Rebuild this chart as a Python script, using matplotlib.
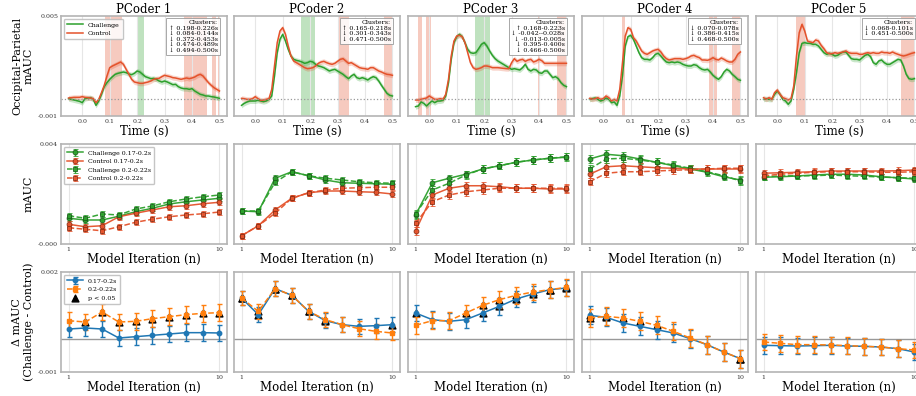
import matplotlib
matplotlib.use("Agg")
import numpy as np
import matplotlib.pyplot as plt

plt.rcParams['font.family'] = ['DejaVu Serif', 'DejaVu Sans']

# ---------------- data (mAUC values in units of 1e-3) ----------------
time = [-0.05, -0.04, -0.03, -0.02, -0.01, 0.0, 0.01, 0.02, 0.03, 0.04,
        0.05, 0.06, 0.07, 0.08, 0.09, 0.10, 0.11, 0.12, 0.13, 0.14,
        0.15, 0.16, 0.17, 0.18, 0.19, 0.20, 0.21, 0.22, 0.23, 0.24,
        0.25, 0.26, 0.27, 0.28, 0.29, 0.30, 0.31, 0.32, 0.33, 0.34,
        0.35, 0.36, 0.37, 0.38, 0.39, 0.40, 0.41, 0.42, 0.43, 0.44,
        0.45, 0.46, 0.47, 0.48, 0.49, 0.50]

challenge_ts = [
    [0.04, 0.0, -0.04, -0.08, -0.12, -0.2, 0.04, 0.08, 0.1, 0.0,
     -0.36, -0.1, 0.3, 0.76, 1.0, 1.2, 1.36, 1.5, 1.56, 1.6,
     1.64, 1.6, 1.52, 1.48, 1.56, 1.7, 1.64, 1.5, 1.36, 1.3,
     1.24, 1.26, 1.2, 1.1, 1.04, 1.1, 1.04, 0.96, 0.88, 0.9,
     0.76, 0.68, 0.64, 0.64, 0.6, 0.64, 0.5, 0.4, 0.3, 0.26,
     0.2, 0.2, 0.16, 0.14, 0.1, 0.06],
    [-0.36, -0.24, -0.16, -0.1, -0.1, -0.1, -0.06, -0.1, -0.14, -0.1,
     0.0, 0.2, 1.4, 2.8, 3.6, 3.9, 3.5, 3.0, 2.6, 2.4,
     2.34, 2.3, 2.24, 2.16, 2.2, 2.28, 2.24, 2.1, 2.0, 1.96,
     1.9, 1.8, 1.7, 1.76, 1.8, 1.7, 1.6, 1.5, 1.36, 1.24,
     1.4, 1.5, 1.3, 1.24, 1.3, 1.24, 1.16, 1.28, 1.36, 1.3,
     1.1, 0.84, 0.6, 0.36, 0.24, 0.2],
    [-0.44, -0.4, -0.16, -0.24, -0.4, -0.24, -0.1, -0.2, -0.1, -0.1,
     -0.06, 0.2, 1.0, 2.4, 3.4, 3.76, 3.9, 3.76, 3.4, 3.0,
     2.8, 2.76, 2.8, 3.04, 3.3, 3.4, 3.2, 2.9, 2.64, 2.44,
     2.3, 2.2, 2.1, 2.0, 1.9, 1.8, 1.84, 1.8, 1.76, 1.9,
     2.1, 1.8, 1.7, 1.8, 1.76, 1.6, 1.56, 1.7, 1.7, 1.5,
     1.3, 1.36, 1.24, 1.0, 0.84, 0.76],
    [0.0, 0.04, 0.08, 0.0, -0.1, -0.04, 0.08, 0.0, -0.2, -0.16,
     -0.36, 0.2, 1.4, 3.2, 3.76, 3.84, 3.6, 3.2, 2.8, 2.5,
     2.4, 2.4, 2.36, 2.5, 2.7, 2.76, 2.6, 2.4, 2.24, 2.2,
     2.24, 2.2, 2.24, 2.2, 2.1, 2.04, 2.0, 2.0, 2.08, 2.04,
     1.9, 1.8, 1.76, 1.8, 1.64, 1.44, 1.3, 1.2, 1.36, 1.64,
     1.8, 1.7, 1.5, 1.36, 1.2, 1.14],
    [0.0, 0.04, 0.0, 0.0, 0.3, 0.5, 0.3, 0.0, -0.1, -0.3,
     -0.1, 0.6, 1.6, 2.8, 3.36, 3.4, 3.36, 3.36, 3.3, 3.3,
     3.2, 3.0, 2.8, 2.7, 2.76, 2.7, 2.6, 2.64, 2.76, 2.84,
     2.84, 2.64, 2.44, 2.4, 2.4, 2.36, 2.5, 2.64, 2.7, 2.56,
     2.2, 2.1, 2.3, 2.36, 2.2, 2.1, 2.1, 2.2, 2.3, 2.4,
     2.36, 2.0, 1.5, 1.24, 1.2, 1.24],
]

control_ts = [
    [0.08, 0.1, 0.12, 0.12, 0.12, 0.16, 0.12, 0.1, 0.08, 0.04,
     -0.2, 0.0, 0.4, 0.84, 1.4, 1.9, 2.0, 2.08, 2.16, 2.24,
     2.1, 1.8, 1.5, 1.2, 1.04, 1.0, 0.96, 0.96, 1.0, 1.04,
     1.1, 1.2, 1.24, 1.26, 1.36, 1.44, 1.4, 1.36, 1.3, 1.28,
     1.24, 1.2, 1.24, 1.28, 1.24, 1.28, 1.34, 1.44, 1.5, 1.4,
     1.2, 1.0, 0.84, 0.7, 0.6, 0.5],
    [0.06, 0.04, 0.0, 0.0, 0.04, 0.16, 0.04, -0.06, -0.04, 0.0,
     0.04, 0.6, 2.0, 3.4, 4.1, 4.3, 3.9, 3.2, 2.6, 2.3,
     2.2, 2.1, 2.0, 1.9, 1.84, 1.86, 1.9, 2.0, 2.16, 2.24,
     2.28, 2.2, 2.14, 2.1, 2.16, 2.28, 2.4, 2.44, 2.3, 2.16,
     2.2, 2.1, 2.0, 1.9, 1.86, 1.84, 1.8, 1.9, 1.9, 1.8,
     1.7, 1.64, 1.56, 1.5, 1.48, 1.44],
    [-0.04, -0.04, 0.0, 0.04, 0.08, 0.2, 0.1, 0.0, 0.0, 0.04,
     0.0, 0.3, 1.2, 2.6, 3.5, 3.8, 3.84, 3.76, 3.4, 2.8,
     2.2, 1.9, 1.8, 1.84, 1.9, 2.0, 2.0, 1.96, 1.9, 1.9,
     1.9, 1.88, 1.86, 1.84, 1.84, 2.2, 2.44, 2.28, 2.36, 2.4,
     2.28, 2.36, 2.4, 2.24, 2.3, 2.4, 2.32, 2.16, 2.16, 2.16,
     2.16, 2.16, 2.16, 2.16, 2.16, 2.16],
    [0.06, 0.0, 0.04, 0.1, 0.0, 0.04, 0.2, 0.1, -0.1, 0.0,
     -0.1, 0.6, 2.2, 3.8, 4.3, 4.2, 3.7, 3.5, 3.2, 2.9,
     2.76, 2.7, 2.8, 2.9, 2.96, 3.0, 2.84, 2.6, 2.44, 2.36,
     2.4, 2.44, 2.44, 2.44, 2.4, 2.44, 2.5, 2.6, 2.64, 2.56,
     2.5, 2.36, 2.36, 2.34, 2.4, 2.5, 2.4, 2.36, 2.48, 2.4,
     2.3, 2.24, 2.24, 2.4, 2.7, 2.84],
    [0.1, 0.0, 0.1, 0.0, 0.4, 0.56, 0.3, 0.1, 0.04, -0.04,
     0.04, 0.8, 2.6, 4.0, 4.5, 4.1, 3.5, 3.44, 3.4, 3.56,
     3.5, 3.24, 3.04, 2.8, 2.74, 2.74, 2.8, 2.76, 2.8, 2.84,
     2.9, 2.8, 2.76, 2.76, 2.76, 2.7, 2.7, 2.76, 2.8, 2.76,
     2.8, 2.76, 2.76, 2.84, 2.8, 2.8, 2.76, 2.84, 2.76, 2.7,
     2.64, 2.6, 2.64, 2.7, 2.76, 2.8],
]

ts_sem = 0.15

# significant clusters: (start, end, sign) ; +1 challenge > control
clusters = [
    [(0.198, 0.226, 1), (0.084, 0.144, -1), (0.372, 0.453, -1), (0.474, 0.489, -1), (0.494, 0.500, -1)],
    [(0.165, 0.218, 1), (0.301, 0.343, -1), (0.471, 0.500, -1)],
    [(0.168, 0.223, 1), (-0.042, -0.028, -1), (-0.013, 0.005, -1), (0.395, 0.400, -1), (0.466, 0.500, -1)],
    [(0.070, 0.078, -1), (0.386, 0.415, -1), (0.468, 0.500, -1)],
    [(0.068, 0.101, -1), (0.451, 0.500, -1)],
]

iterations = [1, 2, 3, 4, 5, 6, 7, 8, 9, 10]

challenge_w1 = [
    [1.03, 0.96, 0.96, 1.11, 1.29, 1.43, 1.60, 1.69, 1.76, 1.83],
    [1.32, 1.29, 2.63, 2.89, 2.73, 2.56, 2.45, 2.43, 2.41, 2.39],
    [1.16, 2.45, 2.63, 2.79, 3.00, 3.13, 3.27, 3.36, 3.43, 3.47],
    [3.40, 3.59, 3.53, 3.40, 3.27, 3.13, 3.00, 2.87, 2.69, 2.56],
    [2.67, 2.69, 2.72, 2.76, 2.79, 2.79, 2.76, 2.69, 2.65, 2.60],
]
control_w1 = [
    [0.79, 0.69, 0.73, 1.09, 1.23, 1.36, 1.49, 1.53, 1.61, 1.67],
    [0.33, 0.73, 1.36, 1.83, 2.05, 2.12, 2.12, 2.09, 2.07, 2.00],
    [0.52, 1.96, 2.23, 2.33, 2.33, 2.29, 2.23, 2.23, 2.20, 2.20],
    [2.79, 3.09, 3.13, 3.09, 3.05, 3.03, 3.00, 3.00, 3.00, 3.00],
    [2.83, 2.85, 2.87, 2.89, 2.92, 2.92, 2.92, 2.92, 2.93, 2.96],
]
challenge_w2 = [
    [1.13, 1.03, 1.20, 1.16, 1.40, 1.52, 1.69, 1.80, 1.89, 1.96],
    [1.32, 1.32, 2.47, 2.89, 2.73, 2.63, 2.56, 2.49, 2.45, 2.43],
    [1.20, 2.16, 2.43, 2.76, 3.00, 3.13, 3.27, 3.36, 3.43, 3.49],
    [3.00, 3.40, 3.43, 3.36, 3.27, 3.16, 3.03, 2.89, 2.73, 2.52],
    [2.69, 2.72, 2.73, 2.73, 2.76, 2.73, 2.71, 2.68, 2.65, 2.63],
]
control_w2 = [
    [0.65, 0.59, 0.53, 0.69, 0.87, 0.99, 1.09, 1.16, 1.21, 1.28],
    [0.33, 0.73, 1.23, 1.83, 2.05, 2.16, 2.23, 2.25, 2.27, 2.27],
    [0.83, 1.69, 1.96, 2.09, 2.16, 2.23, 2.23, 2.23, 2.23, 2.23],
    [2.49, 2.83, 2.89, 2.89, 2.92, 2.95, 2.97, 3.00, 3.03, 3.03],
    [2.73, 2.79, 2.83, 2.87, 2.89, 2.89, 2.89, 2.87, 2.87, 2.89],
]
iter_sem = [0.12, 0.12, 0.15, 0.15, 0.13]

delta_w1 = [
    [0.29, 0.32, 0.29, 0.02, 0.06, 0.10, 0.14, 0.18, 0.18, 0.17],
    [1.22, 0.72, 1.50, 1.30, 0.82, 0.54, 0.42, 0.37, 0.39, 0.42],
    [0.77, 0.57, 0.52, 0.57, 0.77, 0.97, 1.19, 1.34, 1.47, 1.52],
    [0.70, 0.64, 0.47, 0.37, 0.27, 0.17, 0.00, -0.18, -0.40, -0.60],
    [-0.20, -0.21, -0.22, -0.21, -0.20, -0.22, -0.23, -0.25, -0.30, -0.40],
]
delta_w2 = [
    [0.54, 0.50, 0.80, 0.50, 0.52, 0.60, 0.66, 0.72, 0.76, 0.78],
    [1.22, 0.82, 1.50, 1.30, 0.82, 0.57, 0.42, 0.30, 0.22, 0.17],
    [0.40, 0.54, 0.54, 0.77, 1.00, 1.17, 1.30, 1.40, 1.47, 1.54],
    [0.62, 0.67, 0.62, 0.52, 0.40, 0.22, 0.02, -0.18, -0.40, -0.60],
    [-0.10, -0.14, -0.18, -0.18, -0.19, -0.21, -0.23, -0.25, -0.30, -0.34],
]
delta_sem = [0.25, 0.22, 0.25, 0.27, 0.25]
# iterations with p < 0.05
sig_w1 = [[], [1, 2, 3, 4, 5, 6, 10], [1, 5, 6, 7, 8, 9, 10], [1, 2, 10], []]
sig_w2 = [[2, 3, 4, 5, 6, 7, 8, 9, 10], [1, 2, 3, 4, 5, 6], [4, 5, 6, 7, 8, 9, 10], [1, 2, 3, 4, 5, 10], []]

titles = ["PCoder 1", "PCoder 2", "PCoder 3", "PCoder 4", "PCoder 5"]

# ---------------- styling ----------------
GREEN = '#2ca02c'
RED = '#e4522b'
GREEN_EDGE = '#1b5e1b'
RED_EDGE = '#8a2c12'
BLUE = '#1f77b4'
ORANGE = '#ff7f0e'
SPINE = '#b4b4b4'
SCALE = 1e-3

fig = plt.figure(figsize=(9.16, 3.96), dpi=100)

lefts = [61, 234, 408, 582, 756]
width = 166
row_bottoms = [116, 244, 372]
height = 100


def make_ax(col, row):
    W, H = 916.0, 396.0
    ax = fig.add_axes([lefts[col] / W, 1 - row_bottoms[row] / H, width / W, height / H])
    for s in ax.spines.values():
        s.set_color(SPINE)
        s.set_linewidth(1.2)
    ax.tick_params(length=0, labelsize=4.5, pad=2, colors='#333333')
    ax.grid(axis='x', color='#e6e6e6', linewidth=0.8)
    ax.set_axisbelow(True)
    return ax


def scaled(vals):
    return [v * SCALE for v in vals]


for i in range(5):
    # ---------- row 1: time courses ----------
    ax = make_ax(i, 0)
    for start, end, sign in clusters[i]:
        ax.axvspan(start, end, color=GREEN if sign > 0 else RED,
                   alpha=0.3, linewidth=0, zorder=0.5)
    ch = np.array(scaled(challenge_ts[i]))
    co = np.array(scaled(control_ts[i]))
    ax.fill_between(time, ch - ts_sem * SCALE, ch + ts_sem * SCALE, color=GREEN, alpha=0.25, linewidth=0)
    ax.fill_between(time, co - ts_sem * SCALE, co + ts_sem * SCALE, color=RED, alpha=0.25, linewidth=0)
    ax.plot(time, ch, color=GREEN, lw=1.1, label="Challenge")
    ax.plot(time, co, color=RED, lw=1.1, label="Control")
    ax.axhline(0, color='#999999', ls=':', lw=0.9)
    ax.set_ylim(-0.001, 0.005)
    ax.set_xticks([0.0, 0.1, 0.2, 0.3, 0.4, 0.5])
    ax.set_xticklabels(["0.0", "0.1", "0.2", "0.3", "0.4", "0.5"])
    ax.set_yticks([-0.001, 0.005])
    ax.set_yticklabels(["-0.001", "0.005"] if i == 0 else [])
    ax.set_xlabel("Time (s)", fontsize=8.5, labelpad=0.5)
    ax.set_title(titles[i], fontsize=8.5, pad=2)
    lines = ["Clusters:"]
    for start, end, sign in clusters[i]:
        arrow = "↑" if sign > 0 else "↓"
        lines.append(f"{arrow} {start:.3f}-{end:.3f}s")
    ax.text(0.945, 0.955, "\n".join(lines), transform=ax.transAxes, ha='right', va='top',
            fontsize=4.6, multialignment='right', linespacing=1.1,
            bbox=dict(boxstyle='square,pad=0.35', fc='white', ec='#999999', lw=0.7, alpha=0.85))
    if i == 0:
        ax.set_ylabel("Occipital-Parietal\nmAUC", fontsize=8, labelpad=3)
        ax.legend(loc='upper left', fontsize=4.5, handlelength=2.5, framealpha=0.85,
                  edgecolor='#bbbbbb', borderpad=0.5)

    # ---------- row 2: mAUC vs model iteration ----------
    ax = make_ax(i, 1)
    e = [iter_sem[i] * SCALE] * len(iterations)
    series = [
        (challenge_w1[i], GREEN, GREEN_EDGE, '-', 'o', "Challenge 0.17-0.2s"),
        (control_w1[i], RED, RED_EDGE, '-', 'o', "Control 0.17-0.2s"),
        (challenge_w2[i], GREEN, GREEN_EDGE, '--', 's', "Challenge 0.2-0.22s"),
        (control_w2[i], RED, RED_EDGE, '--', 's', "Control 0.2-0.22s"),
    ]
    for vals, c, ec, ls, mk, lab in series:
        ax.errorbar(iterations, scaled(vals), yerr=e, color=c, ls=ls, marker=mk, ms=3.5,
                    mec=ec, mew=0.6, lw=1.1, elinewidth=1.0, capsize=1.8, ecolor=c,
                    alpha=0.95, label=lab)
    ax.set_ylim(0.0, 0.004)
    ax.set_xlim(0.55, 10.45)
    ax.set_xticks([1, 10])
    ax.set_xticklabels(["1", "10"])
    ax.set_yticks([0.0, 0.004])
    ax.set_yticklabels(["-0.000", "0.004"] if i == 0 else [])
    ax.set_xlabel("Model Iteration (n)", fontsize=8.5, labelpad=1)
    if i == 0:
        ax.set_ylabel("mAUC", fontsize=8, labelpad=3)
        ax.legend(loc='upper left', fontsize=4.5, handlelength=2.5, framealpha=0.85,
                  edgecolor='#bbbbbb', borderpad=0.5)

    # ---------- row 3: delta mAUC ----------
    ax = make_ax(i, 2)
    ax.axhline(0, color='#999999', lw=1.0, zorder=1)
    e = [delta_sem[i] * SCALE] * len(iterations)
    h1 = ax.errorbar(iterations, scaled(delta_w1[i]), yerr=e, color=BLUE, ls='-', marker='o', ms=3.2,
                     lw=1.1, elinewidth=1.0, capsize=1.8, label="0.17-0.2s", zorder=3)
    h2 = ax.errorbar(iterations, scaled(delta_w2[i]), yerr=e, color=ORANGE, ls='--', marker='s', ms=3.5,
                     lw=1.1, elinewidth=1.0, capsize=1.8, label="0.2-0.22s", zorder=3)
    for vals, sig in ((delta_w1[i], sig_w1[i]), (delta_w2[i], sig_w2[i])):
        xs = [n for n in iterations if n in sig]
        ys = [vals[n - 1] * SCALE for n in xs]
        ax.scatter(xs, ys, marker='^', color='black', s=24, zorder=2.5)
    ax.set_ylim(-0.001, 0.002)
    ax.set_xlim(0.55, 10.45)
    ax.set_xticks([1, 10])
    ax.set_xticklabels(["1", "10"])
    ax.set_yticks([-0.001, 0.002])
    ax.set_yticklabels(["-0.001", "0.002"] if i == 0 else [])
    ax.set_xlabel("Model Iteration (n)", fontsize=8.5, labelpad=1)
    if i == 0:
        h3 = ax.scatter([], [], marker='^', color='black', s=24)
        ax.set_ylabel("Δ mAUC\n(Challenge - Control)", fontsize=8, labelpad=3)
        ax.legend([h1, h2, h3], ["0.17-0.2s", "0.2-0.22s", "p < 0.05"],
                  loc='upper left', fontsize=4.5, handlelength=2.5, framealpha=0.85,
                  edgecolor='#bbbbbb', borderpad=0.5)

fig.savefig("out.png", dpi=100)
